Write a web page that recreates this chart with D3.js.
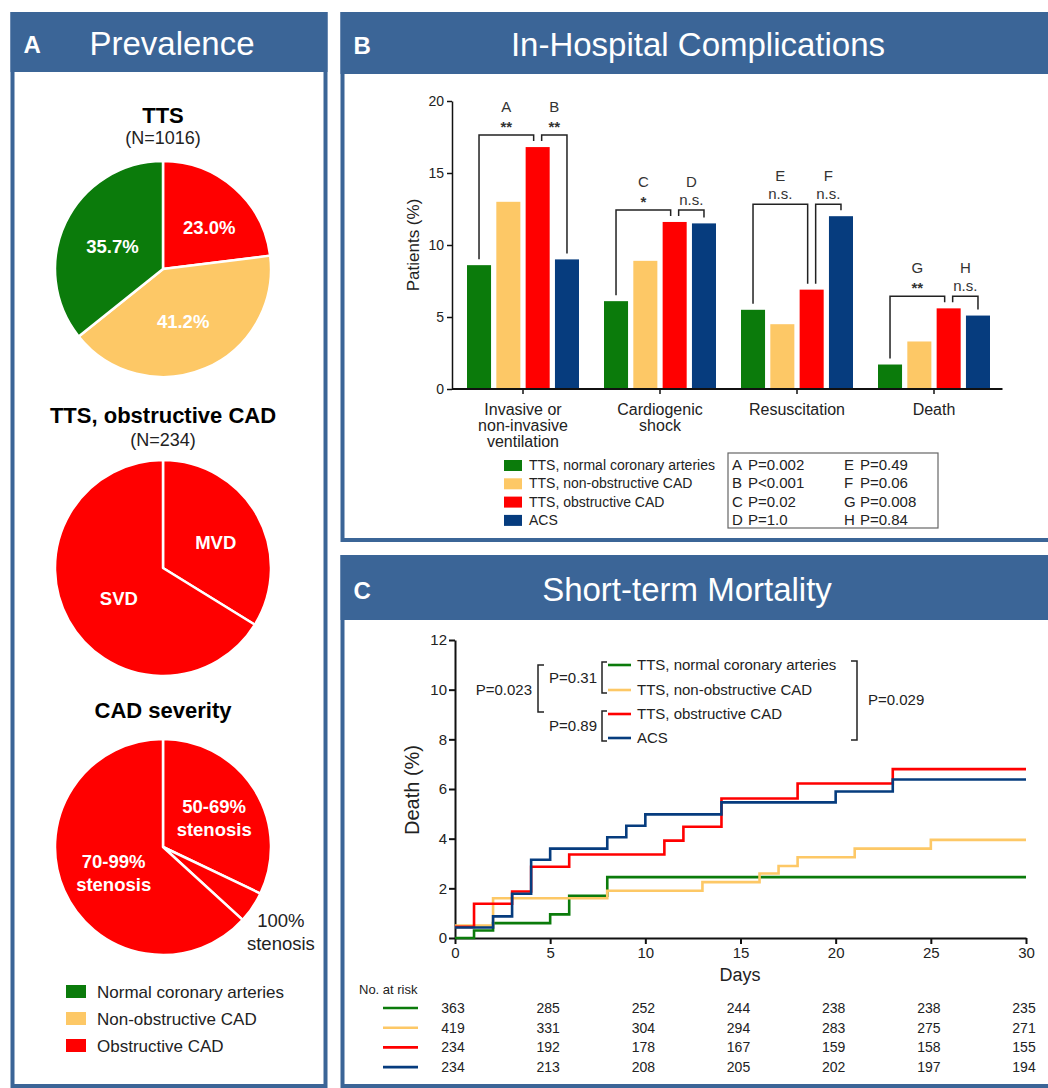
<!DOCTYPE html>
<html lang="en">
<head>
<meta charset="utf-8">
<title>TTS with coronary artery disease</title>
<script src="https://d3js.org/d3.v7.min.js"></script>
<style>
  body { margin: 0; background: #fff; }
  svg { display: block; font-family: "Liberation Sans", Arial, Helvetica, sans-serif; }
</style>
</head>
<body>
<svg id="chart" width="1048" height="1088"></svg>
<script>
// group colours
var green = "#0b7b0b", yellow = "#fdc866", red = "#ff0000", navy = "#063c7e";
var panelBlue = "#3b6597";

// ---- panel A data ----
var pieTTSLabels = ["23.0%", "41.2%", "35.7%"];
var pieTTSValues = [23.0, 41.2, 35.7];
var pieObsLabels = ["MVD", "SVD"];
var pieObsValues = [33.8, 66.2];
var pieSevLabels = [["50-69%", "stenosis"], ["100%", "stenosis"], ["70-99%", "stenosis"]];
var pieSevValues = [32.1, 4.7, 63.2];
var prevLegend = ["Normal coronary arteries", "Non-obstructive CAD", "Obstructive CAD"];

// ---- panel B data ----
var complications = [["Invasive or", "non-invasive", "ventilation"], ["Cardiogenic", "shock"], ["Resuscitation"], ["Death"]];
var seriesNames = ["TTS, normal coronary arteries", "TTS, non-obstructive CAD", "TTS, obstructive CAD", "ACS"];
var normalVals = [8.6, 6.1, 5.5, 1.7];
var nonObsVals = [13.0, 8.9, 4.5, 3.3];
var obsVals = [16.8, 11.6, 6.9, 5.6];
var acsVals = [9.0, 11.5, 12.0, 5.1];
var yTicksB = [0, 5, 10, 15, 20];
var bracketLetters = ["A", "B", "C", "D", "E", "F", "G", "H"];
var bracketSig = ["**", "**", "*", "n.s.", "n.s.", "n.s.", "**", "n.s."];
var bracketFrom = [0, 2, 0, 2, 0, 2, 0, 2];
var bracketTo = [2, 3, 2, 3, 2, 3, 2, 3];
var pValues = ["P=0.002", "P<0.001", "P=0.02", "P=1.0", "P=0.49", "P=0.06", "P=0.008", "P=0.84"];

// ---- panel C data ----
var kmNormalDays = [0, 1, 2, 5, 6, 8, 30];
var kmNormalDeath = [0, 0.3, 0.6, 0.95, 1.7, 2.45, 2.45];
var kmNonObsDays = [0, 2, 8, 13, 16, 17, 18, 21, 25, 30];
var kmNonObsDeath = [0.5, 1.6, 1.9, 2.25, 2.6, 2.9, 3.25, 3.6, 3.95, 3.95];
var kmObsDays = [0, 1, 3, 4, 6, 11, 12, 14, 18, 23, 30];
var kmObsDeath = [0.45, 1.38, 1.87, 2.87, 3.36, 3.92, 4.48, 5.62, 6.22, 6.8, 6.8];
var kmAcsDays = [0, 2, 3, 4, 5, 8, 9, 10, 14, 20, 23, 30];
var kmAcsDeath = [0.42, 0.87, 1.78, 3.15, 3.6, 4.06, 4.52, 4.98, 5.46, 5.9, 6.38, 6.38];
var yTicksC = [0, 2, 4, 6, 8, 10, 12];
var xTicksC = [0, 5, 10, 15, 20, 25, 30];
var riskDays = [0, 5, 10, 15, 20, 25, 30];
var riskNormal = [363, 285, 252, 244, 238, 238, 235];
var riskNonObs = [419, 331, 304, 294, 283, 275, 271];
var riskObs = [234, 192, 178, 167, 159, 158, 155];
var riskAcs = [234, 213, 208, 205, 202, 197, 194];

var svg = d3.select("#chart");
var groupColors = [green, yellow, red, navy];

// panel frame with blue header
function panel(x, y, w, h, hh, letter, title, titleX) {
  svg.append("rect").attr("x", x).attr("y", y).attr("width", w).attr("height", h)
    .attr("fill", "#fff").attr("stroke", panelBlue).attr("stroke-width", 4);
  svg.append("rect").attr("x", x - 2).attr("y", y - 2).attr("width", w + 4).attr("height", hh)
    .attr("fill", panelBlue);
  svg.append("text").attr("x", x + 11).attr("y", y + hh / 2 + 9)
    .attr("fill", "#fff").attr("font-weight", "bold").attr("font-size", 24).text(letter);
  svg.append("text").attr("x", titleX).attr("y", y + hh / 2 + 11)
    .attr("fill", "#fff").attr("font-size", 33).attr("text-anchor", "middle").text(title);
}

panel(12.5, 14, 313, 1072, 60, "A", "Prevalence", 172);
panel(342.5, 14, 708, 526, 62, "B", "In-Hospital Complications", 698);
panel(342.5, 557, 708, 529, 65, "C", "Short-term Mortality", 687);

// ================= panel A =================
var pieR = 108;
function drawPie(cx, cy, values, colors, labels, labelR, labelStyle) {
  var arcs = d3.pie().sort(null)(values);
  var arc = d3.arc().innerRadius(0).outerRadius(pieR);
  var g = svg.append("g").attr("transform", "translate(" + cx + "," + cy + ")");
  g.selectAll("path").data(arcs).join("path")
    .attr("d", arc)
    .attr("fill", function(d, i) { return colors[i]; })
    .attr("stroke", "#fff").attr("stroke-width", 2.5).attr("stroke-linejoin", "round");
  arcs.forEach(function(d, i) {
    var la = d3.arc().innerRadius(pieR * labelR[i]).outerRadius(pieR * labelR[i]);
    var c = la.centroid(d);
    var lines = [].concat(labels[i]);
    var st = labelStyle[i];
    var t = g.append("text").attr("text-anchor", "middle")
      .attr("font-size", 18.5).attr("font-weight", st.bold ? "bold" : "normal")
      .attr("fill", st.fill);
    lines.forEach(function(l, k) {
      t.append("tspan").attr("x", c[0] + (st.dx || 0))
        .attr("y", c[1] + 6 + (st.dy || 0) + (k - (lines.length - 1) / 2) * 23).text(l);
    });
  });
}
var whiteBold = { fill: "#fff", bold: true };

svg.append("text").attr("x", 163).attr("y", 123).attr("text-anchor", "middle")
  .attr("font-size", 22).attr("font-weight", "bold").text("TTS");
svg.append("text").attr("x", 163).attr("y", 144).attr("text-anchor", "middle")
  .attr("font-size", 18).attr("fill", "#222").text("(N=1016)");
drawPie(163, 269, pieTTSValues, [red, yellow, green], pieTTSLabels, [0.62, 0.55, 0.56],
  [{ fill: "#fff", bold: true, dx: 2, dy: 9 }, { fill: "#fff", bold: true, dx: -3, dy: -2 },
   { fill: "#fff", bold: true, dx: 4, dy: 4 }]);

svg.append("text").attr("x", 163).attr("y", 423).attr("text-anchor", "middle")
  .attr("font-size", 22).attr("font-weight", "bold").text("TTS, obstructive CAD");
svg.append("text").attr("x", 163).attr("y", 446).attr("text-anchor", "middle")
  .attr("font-size", 18).attr("fill", "#222").text("(N=234)");
drawPie(163, 568, pieObsValues, [red, red], pieObsLabels, [0.58, 0.5],
  [{ fill: "#fff", bold: true, dx: -2, dy: 6 }, { fill: "#fff", bold: true, dx: 3, dy: 5 }]);

svg.append("text").attr("x", 163).attr("y", 718).attr("text-anchor", "middle")
  .attr("font-size", 22).attr("font-weight", "bold").text("CAD severity");
drawPie(163, 847, pieSevValues, [red, red, red], pieSevLabels, [0.56, 1.25, 0.56],
  [{ fill: "#fff", bold: true, dx: 0, dy: 4 }, { fill: "#222", bold: false, dx: 6, dy: 10 },
   { fill: "#fff", bold: true, dx: 6, dy: 2 }]);

var legA = svg.append("g");
prevLegend.forEach(function(name, i) {
  var y = 992 + i * 27;
  legA.append("rect").attr("x", 66).attr("y", y - 7).attr("width", 20).attr("height", 13)
    .attr("fill", [green, yellow, red][i]);
  legA.append("text").attr("x", 97).attr("y", y + 6).attr("font-size", 17)
    .attr("fill", "#222").text(name);
});

// ================= panel B =================
var seriesVals = [normalVals, nonObsVals, obsVals, acsVals];
var xB = d3.scaleBand().domain(d3.range(complications.length)).range([454.5, 1002.5]);
var xInner = d3.scaleBand().domain(d3.range(seriesVals.length)).range([-56, 56]).paddingInner(0.18);
var yB = d3.scaleLinear().domain([0, 20]).range([389, 101]);
var axisLeftX = 452;
function barCenter(g, s) { return xB(g) + xB.bandwidth() / 2 + xInner(s) + xInner.bandwidth() / 2; }

var gB = svg.append("g");
seriesVals.forEach(function(vals, s) {
  gB.selectAll(".bar" + s).data(vals).join("rect")
    .attr("x", function(d, g) { return xB(g) + xB.bandwidth() / 2 + xInner(s); })
    .attr("y", function(d) { return yB(d); })
    .attr("width", xInner.bandwidth())
    .attr("height", function(d) { return yB(0) - yB(d); })
    .attr("fill", groupColors[s]);
});

var yAxisB = gB.append("g").attr("transform", "translate(" + axisLeftX + ",0)")
  .call(d3.axisLeft(yB).tickValues(yTicksB).tickSize(5).tickSizeOuter(0).tickPadding(3));
yAxisB.selectAll("text").attr("font-size", 14).attr("fill", "#222");
yAxisB.selectAll("line, path").attr("stroke", "#111").attr("stroke-width", 1.5);

var xAxisB = gB.append("g").attr("transform", "translate(0," + yB(0) + ")")
  .call(d3.axisBottom(xB).tickSize(5).tickSizeOuter(0).tickFormat(""));
xAxisB.select("path").remove();
xAxisB.selectAll("line").attr("stroke", "#111").attr("stroke-width", 1.5);
gB.append("line").attr("x1", axisLeftX).attr("x2", xB.range()[1])
  .attr("y1", yB(0)).attr("y2", yB(0)).attr("stroke", "#111").attr("stroke-width", 1.8);

complications.forEach(function(lines, g) {
  var t = gB.append("text").attr("text-anchor", "middle").attr("font-size", 16).attr("fill", "#222");
  lines.forEach(function(l, k) {
    t.append("tspan").attr("x", xB(g) + xB.bandwidth() / 2).attr("y", 415 + k * 16).text(l);
  });
});

gB.append("text").attr("transform", "translate(419,245) rotate(-90)")
  .attr("text-anchor", "middle").attr("font-size", 17).attr("fill", "#222").text("Patients (%)");

// significance brackets
bracketLetters.forEach(function(letter, i) {
  var g = Math.floor(i / 2);
  var top = yB(d3.max(seriesVals, function(v) { return v[g]; })) - 12;
  var a = bracketFrom[i], b = bracketTo[i];
  var x1 = barCenter(g, a) + (i % 2 ? 4 : 0);
  var x2 = barCenter(g, b) - (i % 2 ? 0 : 4);
  var y1 = yB(seriesVals[a][g]) - 6, y2 = yB(seriesVals[b][g]) - 6;
  gB.append("path")
    .attr("d", "M" + x1 + "," + y1 + "V" + top + "H" + x2 + "V" + y2)
    .attr("fill", "none").attr("stroke", "#222").attr("stroke-width", 1.5);
  var cx = (x1 + x2) / 2;
  gB.append("text").attr("x", cx).attr("y", top - 23).attr("text-anchor", "middle")
    .attr("font-size", 15).attr("fill", "#333").text(letter);
  var star = bracketSig[i] !== "n.s.";
  gB.append("text").attr("x", cx).attr("y", top - (star ? 3 : 5)).attr("text-anchor", "middle")
    .attr("font-size", 15).attr("font-weight", star ? "bold" : "normal")
    .attr("fill", "#333").text(bracketSig[i]);
});

// legend and P box
seriesNames.forEach(function(name, i) {
  var y = 465 + i * 18.3;
  gB.append("rect").attr("x", 504).attr("y", y - 5).attr("width", 18).attr("height", 11)
    .attr("fill", groupColors[i]);
  gB.append("text").attr("x", 529).attr("y", y + 5).attr("font-size", 14).attr("fill", "#222").text(name);
});
gB.append("rect").attr("x", 728).attr("y", 453).attr("width", 210).attr("height", 75)
  .attr("fill", "none").attr("stroke", "#666").attr("stroke-width", 1.2);
bracketLetters.forEach(function(letter, i) {
  var col = Math.floor(i / 4), row = i % 4;
  var y = 470 + row * 18.3;
  var x = 732 + col * 112;
  gB.append("text").attr("x", x).attr("y", y).attr("font-size", 15).attr("fill", "#222").text(letter);
  gB.append("text").attr("x", x + 16).attr("y", y).attr("font-size", 15).attr("fill", "#222").text(pValues[i]);
});

// ================= panel C =================
var xC = d3.scaleLinear().domain([0, 30]).range([455, 1026]);
var yC = d3.scaleLinear().domain([0, 12]).range([938, 640]);
var gC = svg.append("g");

var yAxisC = gC.append("g").attr("transform", "translate(" + xC(0) + ",0)")
  .call(d3.axisLeft(yC).tickValues(yTicksC).tickSize(6).tickSizeOuter(0).tickPadding(2));
yAxisC.selectAll("text").attr("font-size", 15).attr("fill", "#222");
yAxisC.selectAll("line, path").attr("stroke", "#111").attr("stroke-width", 2);
var xAxisC = gC.append("g").attr("transform", "translate(0," + yC(0) + ")")
  .call(d3.axisBottom(xC).tickValues(xTicksC).tickSize(6).tickSizeOuter(0).tickPadding(3));
xAxisC.selectAll("text").attr("font-size", 15).attr("fill", "#222");
xAxisC.selectAll("line, path").attr("stroke", "#111").attr("stroke-width", 2);

gC.append("text").attr("x", 740).attr("y", 981).attr("text-anchor", "middle")
  .attr("font-size", 18).attr("fill", "#222").text("Days");
gC.append("text").attr("transform", "translate(419,790) rotate(-90)")
  .attr("text-anchor", "middle").attr("font-size", 20).attr("fill", "#222").text("Death (%)");

var kmDays = [kmNormalDays, kmNonObsDays, kmObsDays, kmAcsDays];
var kmDeath = [kmNormalDeath, kmNonObsDeath, kmObsDeath, kmAcsDeath];
var kmLine = d3.line().curve(d3.curveStepAfter)
  .x(function(d) { return xC(d[0]); }).y(function(d) { return yC(d[1]); });
kmDays.forEach(function(days, s) {
  var pts = days.map(function(d, k) { return [d, kmDeath[s][k]]; });
  gC.append("path").attr("d", kmLine(pts)).attr("fill", "none")
    .attr("stroke", groupColors[s]).attr("stroke-width", 2.6);
});

// legend with comparison brackets
var legRows = [665, 690, 714, 738];
seriesNames.forEach(function(name, i) {
  gC.append("line").attr("x1", 608).attr("x2", 631).attr("y1", legRows[i]).attr("y2", legRows[i])
    .attr("stroke", groupColors[i]).attr("stroke-width", 2.6);
  gC.append("text").attr("x", 637).attr("y", legRows[i] + 5).attr("font-size", 15)
    .attr("fill", "#222").text(name);
});
function bracket(x, y1, y2, arm) {
  gC.append("path").attr("d", "M" + (x + arm) + "," + y1 + "H" + x + "V" + y2 + "H" + (x + arm))
    .attr("fill", "none").attr("stroke", "#222").attr("stroke-width", 1.5);
}
function pLabel(x, y, txt, anchor) {
  gC.append("text").attr("x", x).attr("y", y + 5).attr("text-anchor", anchor)
    .attr("font-size", 15).attr("fill", "#222").text(txt);
}
bracket(602, legRows[0] - 3, legRows[1] + 3, 5);
pLabel(597, (legRows[0] + legRows[1]) / 2, "P=0.31", "end");
bracket(602, legRows[2] - 3, legRows[3] + 3, 5);
pLabel(597, (legRows[2] + legRows[3]) / 2, "P=0.89", "end");
bracket(538, legRows[0], legRows[2] - 2, 6);
pLabel(532, (legRows[0] + legRows[2]) / 2, "P=0.023", "end");
bracket(857, legRows[0] - 4, legRows[3] + 2, -6);
pLabel(868, (legRows[0] + legRows[3]) / 2 - 2, "P=0.029", "start");

// number at risk
gC.append("text").attr("x", 359).attr("y", 994).attr("font-size", 13).attr("fill", "#222").text("No. at risk");
var riskRows = [riskNormal, riskNonObs, riskObs, riskAcs];
riskRows.forEach(function(row, s) {
  var y = 1008 + s * 19.7;
  gC.append("line").attr("x1", 383).attr("x2", 418).attr("y1", y).attr("y2", y)
    .attr("stroke", groupColors[s]).attr("stroke-width", 2.6);
  gC.selectAll(".risk" + s).data(row).join("text")
    .attr("x", function(d, k) { return xC(riskDays[k]) - 2; })
    .attr("y", y + 5).attr("text-anchor", "middle")
    .attr("font-family", "'Liberation Sans Narrow', 'Liberation Sans', sans-serif")
    .attr("font-size", 14).attr("fill", "#222").text(function(d) { return d; });
});
</script>
</body>
</html>
